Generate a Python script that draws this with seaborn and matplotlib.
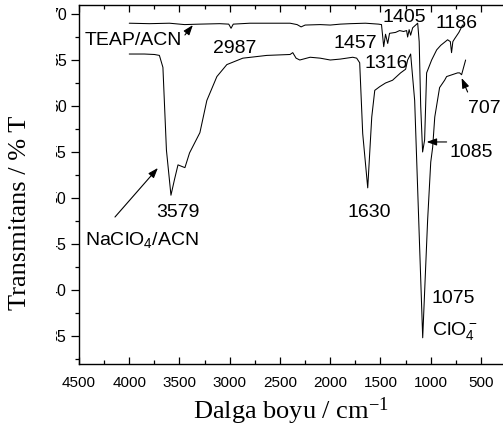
import matplotlib
matplotlib.use("Agg")
import numpy as np
import pandas as pd
import seaborn as sns
import matplotlib.pyplot as plt
from matplotlib.patches import Rectangle
from matplotlib.ticker import MultipleLocator

# ---- data: TEAP/ACN spectrum (wavenumber, %T) ----
wn_teap = [4000, 3800, 3600, 3450, 3300, 3100, 3010, 2987, 2965, 2800, 2600, 2400, 2330,
           2290, 2250, 2100, 2000, 1900, 1800, 1650, 1520, 1490, 1468, 1450, 1428, 1410,
           1350, 1310, 1270, 1240, 1230, 1215, 1200, 1180, 1150, 1130, 1115, 1100, 1081,
           1061, 1041, 991, 941, 900, 832, 805, 793, 780, 763, 720, 683]
t_teap = [69.0, 68.95, 69.0, 68.85, 68.9, 68.95, 68.9, 68.45, 68.9, 69.0, 69.0, 69.0, 68.85,
          68.6, 68.8, 68.85, 68.8, 68.9, 68.95, 69.0, 68.9, 68.85, 66.45, 67.8, 66.8, 67.9,
          68.0, 68.2, 68.1, 68.2, 67.5, 68.3, 67.7, 68.5, 68.8, 69.0, 67.0, 60.0, 55.0,
          56.3, 63.6, 65.0, 66.1, 66.6, 67.2, 67.0, 65.8, 67.0, 67.3, 68.0, 68.8]

# ---- data: NaClO4/ACN spectrum ----
wn_na = [4000, 3850, 3750, 3700, 3665, 3630, 3585, 3550, 3515, 3470, 3446, 3400, 3297,
         3228, 3128, 3029, 2870, 2631, 2400, 2373, 2340, 2303, 2200, 2100, 2000, 1900,
         1776, 1737, 1707, 1677, 1627, 1587, 1557, 1508, 1450, 1380, 1300, 1250, 1230,
         1200, 1160, 1080, 1031, 1000, 981, 960, 912, 862, 842, 733, 713, 693, 653]
t_na = [65.65, 65.65, 65.6, 65.5, 64.2, 55.2, 50.3, 52.0, 53.6, 53.4, 53.3, 54.9, 57.1,
        60.6, 63.2, 64.5, 65.2, 65.5, 65.6, 65.8, 65.2, 65.0, 65.3, 65.2, 65.0, 65.1,
        65.3, 65.2, 64.7, 57.0, 51.1, 58.8, 61.7, 62.1, 62.5, 62.8, 63.6, 64.0, 65.0,
        65.65, 60.6, 34.8, 47.6, 53.9, 55.5, 58.8, 62.0, 62.8, 63.2, 63.6, 63.6, 63.4, 65.0]

x_ticks = [4500, 4000, 3500, 3000, 2500, 2000, 1500, 1000, 500]
y_ticks = [35, 40, 45, 50, 55, 60, 65, 70]

sns.set_theme(style="ticks")
plt.rcParams['font.family'] = ['Liberation Sans', 'DejaVu Sans']
plt.rcParams['axes.linewidth'] = 1.0

W, H = 503, 437
fig = plt.figure(figsize=(W / 100, H / 100), dpi=100)
ax = fig.add_axes([79 / W, (H - 364) / H, (W - 79) / W, (364 - 5) / H])

df = pd.concat([
    pd.DataFrame({"wn": wn_teap, "T": t_teap, "s": "TEAP/ACN"}),
    pd.DataFrame({"wn": wn_na, "T": t_na, "s": "NaClO4/ACN"}),
])
sns.lineplot(data=df, x="wn", y="T", hue="s", palette=["black", "black"],
             estimator=None, sort=False, legend=False, lw=0.75, ax=ax)

ax.set_xlim(4500, 281)
ax.set_ylim(31.95, 70.98)
ax.set_xticks(x_ticks)
ax.set_xticklabels([str(v) for v in x_ticks])
ax.xaxis.set_minor_locator(MultipleLocator(250))
ax.set_yticks(y_ticks)
ax.set_yticklabels([str(v) for v in y_ticks])
ax.yaxis.set_minor_locator(MultipleLocator(2.5))

ax.spines['right'].set_visible(False)
for s in ['left', 'bottom', 'top']:
    ax.spines[s].set_color('black')
ax.tick_params(axis='x', which='both', direction='in', top=True, bottom=True,
               color='black', labelsize=11, pad=8.5, labelcolor='black')
ax.tick_params(axis='x', which='major', length=5, width=0.9)
ax.tick_params(axis='x', which='minor', length=3, width=0.9)
ax.tick_params(axis='y', which='both', direction='out', left=True, right=False,
               color='black', labelsize=11.5, pad=3, labelcolor='black')
ax.tick_params(axis='y', which='major', length=6, width=0.9)
ax.tick_params(axis='y', which='minor', length=3, width=0.9)

ax.set_xlabel("Dalga boyu / cm$\\mathregular{^{-1}}$", family='Liberation Serif',
              fontsize=19, color='black', labelpad=4)
ax.set_ylabel("")

# white strip that crops the first digits of the y tick labels
fig.patches.append(Rectangle((0, 0), 56 / W, 1, transform=fig.transFigure,
                             facecolor='white', edgecolor='none', zorder=5))
fig.text(20 / W, 1 - 213 / H, "Transmitans / % T", rotation=90, ha='center',
         va='center', family='Liberation Serif', fontsize=19, color='black', zorder=6)

fs = 14
texts = [
    ("TEAP/ACN", 4440, 66.63, 'left'),
    ("2987", 2955, 65.8, 'center'),
    ("1457", 1747, 66.3, 'center'),
    ("1405", 1260, 69.13, 'center'),
    ("1186", 743, 68.48, 'center'),
    ("1316", 1438, 64.13, 'center'),
    ("707", 464, 59.24, 'center'),
    ("1085", 598, 54.46, 'center'),
    ("3579", 3516, 47.93, 'center'),
    ("1630", 1607, 47.93, 'center'),
    ("1075", 777, 38.59, 'center'),
    ("ClO$\\mathregular{_4^-}$", 991, 35.11, 'left'),
    ("NaClO$\\mathregular{_4}$/ACN", 4440, 44.89, 'left'),
]
for s, x, y, ha in texts:
    ax.text(x, y, s, ha=ha, va='baseline', fontsize=fs, color='black')

arrows = [
    ((3446, 67.72), (3367, 68.8)),
    ((4142, 47.93), (3715, 53.26)),
    ((633, 61.52), (693, 63.04)),
    ((842, 56.09), (1041, 56.09)),
]
for tail, head in arrows:
    ax.annotate("", xy=head, xytext=tail,
                arrowprops=dict(arrowstyle="-|>,head_length=0.5,head_width=0.18",
                                color='black', lw=0.8, shrinkA=0, shrinkB=0))

fig.savefig("out.png", dpi=100, facecolor='white')
